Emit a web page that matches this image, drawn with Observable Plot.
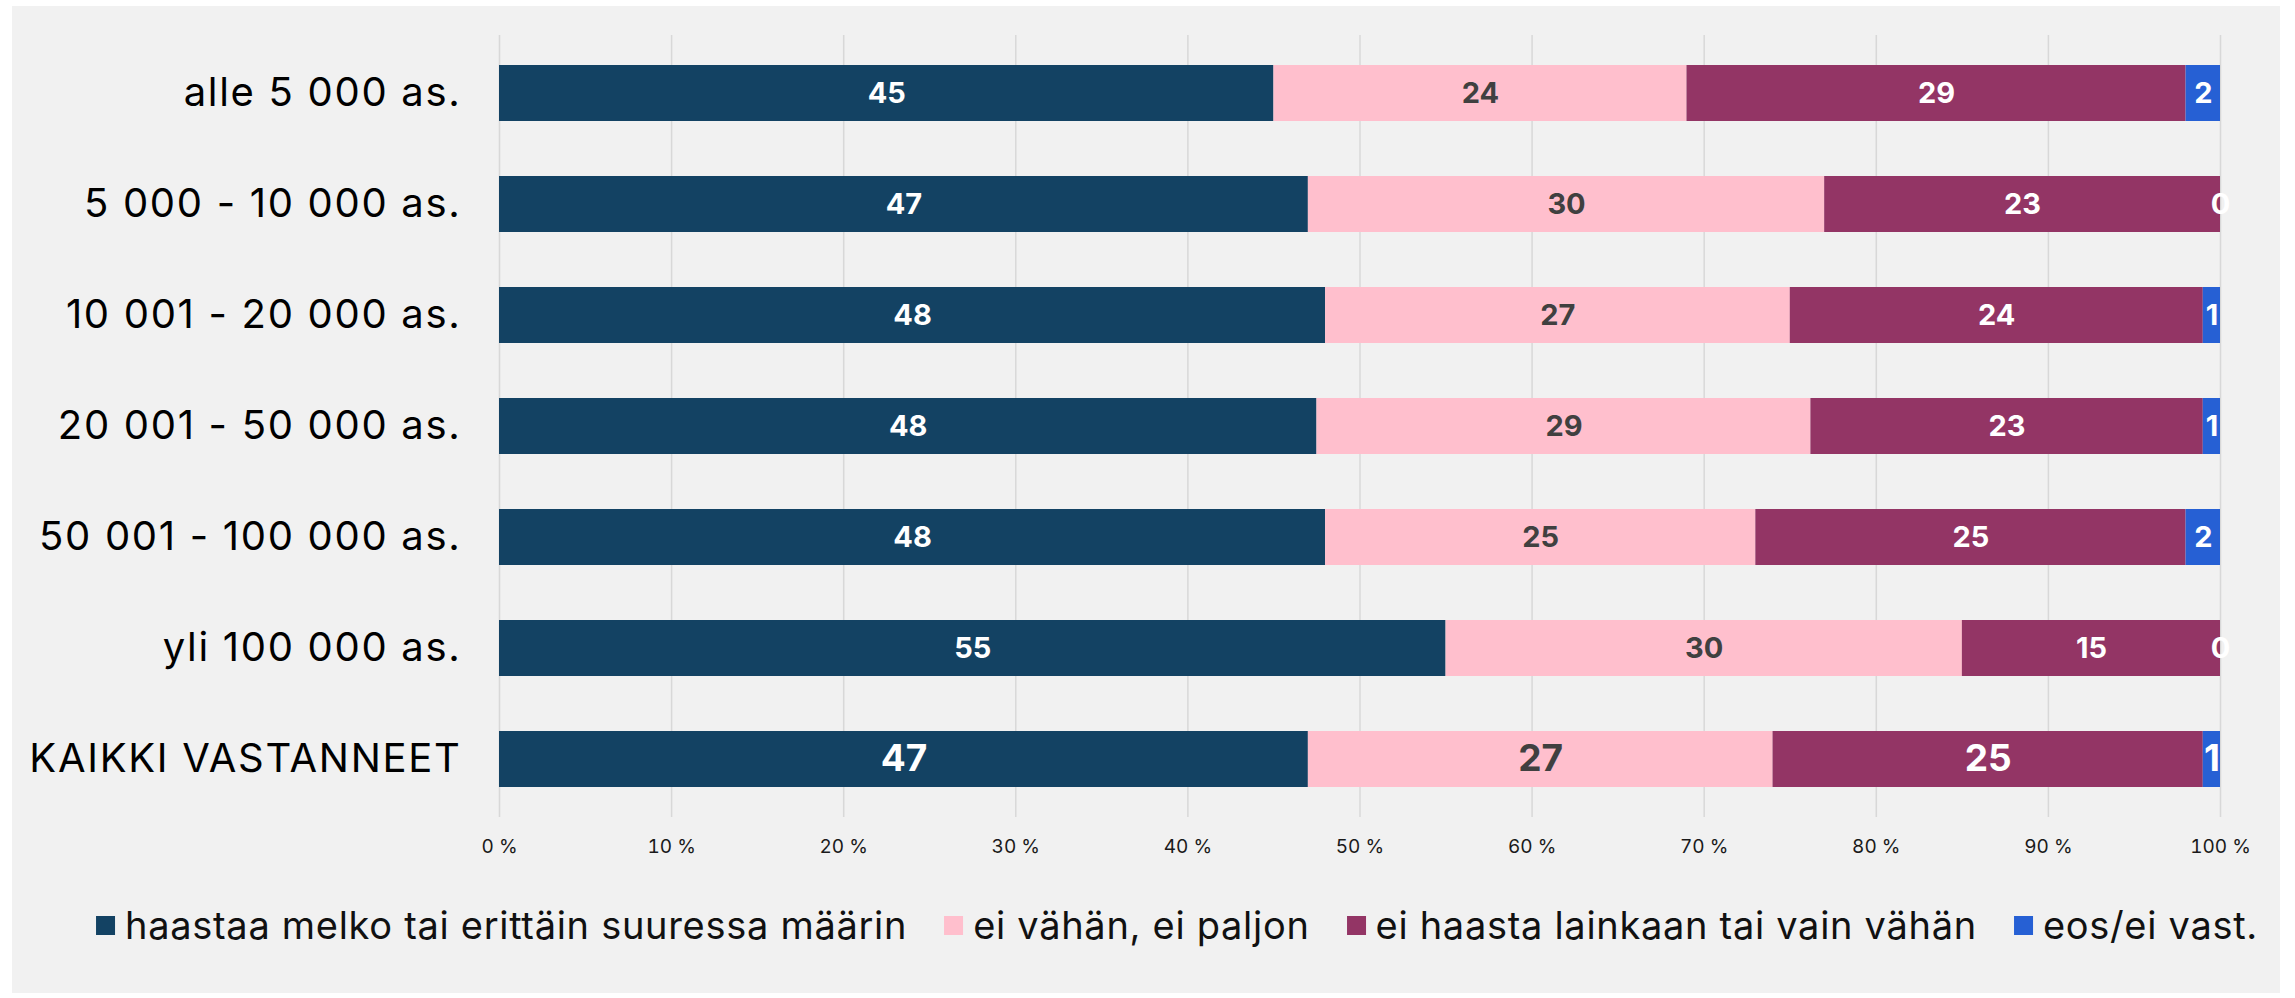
<!DOCTYPE html>
<html>
<head>
<meta charset="utf-8">
<script src="https://cdn.jsdelivr.net/npm/d3@7"></script>
<script src="https://cdn.jsdelivr.net/npm/@observablehq/plot@0.6"></script>
<style>
  html, body { margin: 0; padding: 0; background: #ffffff; }
  #panel { position: absolute; left: 12px; top: 6px; width: 2268px; height: 987px; background: #f1f1f1; font-family: Inter, "Open Sans", sans-serif; }
  #chart { position: absolute; left: 0; top: 0; }
  #legend { position: absolute; top: 894px; left: 1165px; transform: translateX(-50%); height: 50px; display: flex; align-items: center; white-space: nowrap; font-size: 38px; letter-spacing: 0.7px; color: #111; }
  .item { display: flex; align-items: center; margin-right: 37px; }
  .item:last-child { margin-right: 0; }
  .sw { width: 19px; height: 19px; margin-right: 10px; display: inline-block; }
</style>
</head>
<body>
<div id="panel">
  <div id="chart"></div>
  <div id="legend"></div>
</div>
<script>
const categories = ["alle 5 000 as.", "5 000 - 10 000 as.", "10 001 - 20 000 as.", "20 001 - 50 000 as.", "50 001 - 100 000 as.", "yli 100 000 as.", "KAIKKI VASTANNEET"];
const series = ["haastaa melko tai erittäin suuressa määrin", "ei vähän, ei paljon", "ei haasta lainkaan tai vain vähän", "eos/ei vast."];
const colors = ["#134263", "#ffbfcd", "#933565", "#2660d4"];
const labelColors = ["#ffffff", "#404040", "#ffffff", "#ffffff"];
const haastaa = [45, 47, 48, 47.5, 48, 55, 47];
const eiVahan = [24, 30, 27, 28.7, 25, 30, 27];
const eiHaasta = [29, 23, 24, 22.8, 25, 15, 25];
const eos = [2, 0, 1, 1, 2, 0, 1];
const xTicks = [0, 10, 20, 30, 40, 50, 60, 70, 80, 90, 100];
const totalRow = "KAIKKI VASTANNEET";

const seriesValues = [haastaa, eiVahan, eiHaasta, eos];
const data = categories.flatMap((c, i) => series.map((s, j) => ({
  group: c, series: s, value: seriesValues[j][i], labelColor: labelColors[j]
})));

const chart = Plot.plot({
  width: 2268,
  height: 870,
  marginLeft: 487,
  marginRight: 60,
  marginTop: 29,
  marginBottom: 59,
  style: { background: "transparent", fontFamily: "Inter, 'Open Sans', sans-serif", color: "#000" },
  x: { domain: [0, 100], label: null },
  y: { domain: categories, label: null, paddingInner: 0.5, paddingOuter: 0.25 },
  color: { domain: series, range: colors },
  marks: [
    Plot.ruleX(xTicks, { stroke: "#d8d8d8", strokeWidth: 1.5 }),
    Plot.barX(data, Plot.stackX({ x: "value", y: "group", fill: "series", z: "series", order: series })),
    Plot.text(data, Plot.stackX({
      x: "value", y: "group", z: "series", order: series,
      text: d => String(Math.round(d.value)),
      fill: "labelColor",
      fontWeight: 700,
      fontSize: d => d.group === totalRow ? 37 : 29
    })),
    Plot.axisX(xTicks, { tickSize: 0, tickPadding: 22, fontSize: 19, tickFormat: d => d + " %", label: null, fill: "#1a1a1a" }),
    Plot.axisY({ tickSize: 0, tickPadding: 38, fontSize: 40, fill: "#000", label: null })
  ]
});
chart.querySelectorAll("text").forEach(t => {
  if (categories.includes(t.textContent)) {
    t.style.letterSpacing = "1.7px";
  }
});
document.getElementById("chart").appendChild(chart);

const legend = document.getElementById("legend");
series.forEach((s, i) => {
  const item = document.createElement("div");
  item.className = "item";
  const sw = document.createElement("span");
  sw.className = "sw";
  sw.style.background = colors[i];
  const t = document.createElement("span");
  t.textContent = s;
  item.appendChild(sw);
  item.appendChild(t);
  legend.appendChild(item);
});
</script>
</body>
</html>
